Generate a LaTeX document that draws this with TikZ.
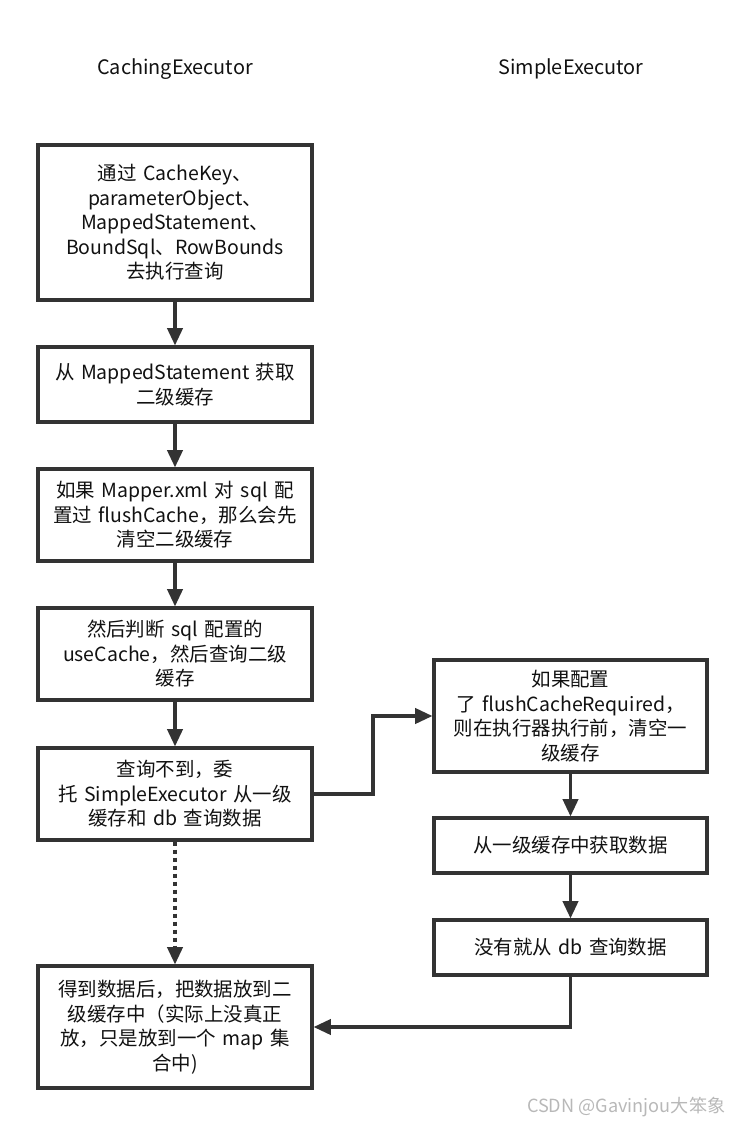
\documentclass[tikz,border=0pt]{standalone}
\usepackage{fontspec}
\setmainfont{Noto Sans CJK SC}
\usetikzlibrary{arrows.meta,calc}
\definecolor{edge}{HTML}{333333}
\definecolor{ink}{HTML}{111111}
\definecolor{wm}{HTML}{B8B8B8}
\tikzset{
  box/.style={draw=edge, line width=2.4pt, fill=white, align=center, inner sep=0pt,
    text=ink, font=\fontsize{14.6pt}{18.4pt}\selectfont, text width=192pt,
    minimum width=205.5pt},
  rbox/.style={box, minimum width=204.75pt},
  flow/.style={draw=edge, line width=2.4pt, -{Triangle[length=13pt,width=11.5pt]}},
  dflow/.style={flow, dash pattern=on 3pt off 3pt},
  title/.style={text=ink, font=\fontsize{14.9pt}{18pt}\selectfont},
}
\begin{document}
\begin{tikzpicture}[x=0.75pt,y=-0.75pt]
\useasboundingbox (0,0) rectangle (745,1126);
\node[title] (t1) at (175,69) {CachingExecutor};
\node[title] (t2) at (571,69) {SimpleExecutor};

\node[box, minimum height=116.25pt] (b1) at (175,222.5) {通过 CacheKey、\\parameterObject、\\MappedStatement、\\BoundSql、RowBounds\\去执行查询};
\node[box, minimum height=56.25pt] (b2) at (175,384.5) {从 MappedStatement 获取\\二级缓存};
\node[box, minimum height=69pt] (b3) at (175,515) {如果 Mapper.xml 对 sql 配\\置过 flushCache，那么会先\\清空二级缓存};
\node[box, minimum height=69pt] (b4) at (175,654) {然后判断 sql 配置的\\useCache，然后查询二级\\缓存};
\node[box, minimum height=69pt] (b5) at (175,794) {查询不到，委\\托 SimpleExecutor 从一级\\缓存和 db 查询数据};
\node[box, minimum height=91.5pt] (b6) at (175,1027) {得到数据后，把数据放到二\\级缓存中（实际上没真正\\放，只是放到一个 map 集\\合中)};

\node[rbox, minimum height=84pt] (r1) at (570.5,716) {如果配置\\了 flushCacheRequired，\\则在执行器执行前，清空一\\级缓存};
\node[rbox, minimum height=41.25pt] (r2) at (570.5,845.5) {从一级缓存中获取数据};
\node[rbox, minimum height=41.25pt] (r3) at (570.5,947.5) {没有就从 db 查询数据};

\draw[flow] (b1) -- (b2);
\draw[flow] (b2) -- (b3);
\draw[flow] (b3) -- (b4);
\draw[flow] (b4) -- (b5);
\draw[dflow] (b5) -- (b6);
\coordinate (mid) at ($(b5.east)!0.5!(r1.west)$);
\draw[flow] (b5.east) -| (mid) |- (r1.west);
\draw[flow] (r1) -- (r2);
\draw[flow] (r2) -- (r3);
\draw[flow] (r3.south) |- (b6.east);

\node[text=wm, font=\fontsize{13.6pt}{15pt}\selectfont, anchor=east] (wmk) at (730,1107) {CSDN @Gavinjou大笨象};
\end{tikzpicture}
\end{document}
